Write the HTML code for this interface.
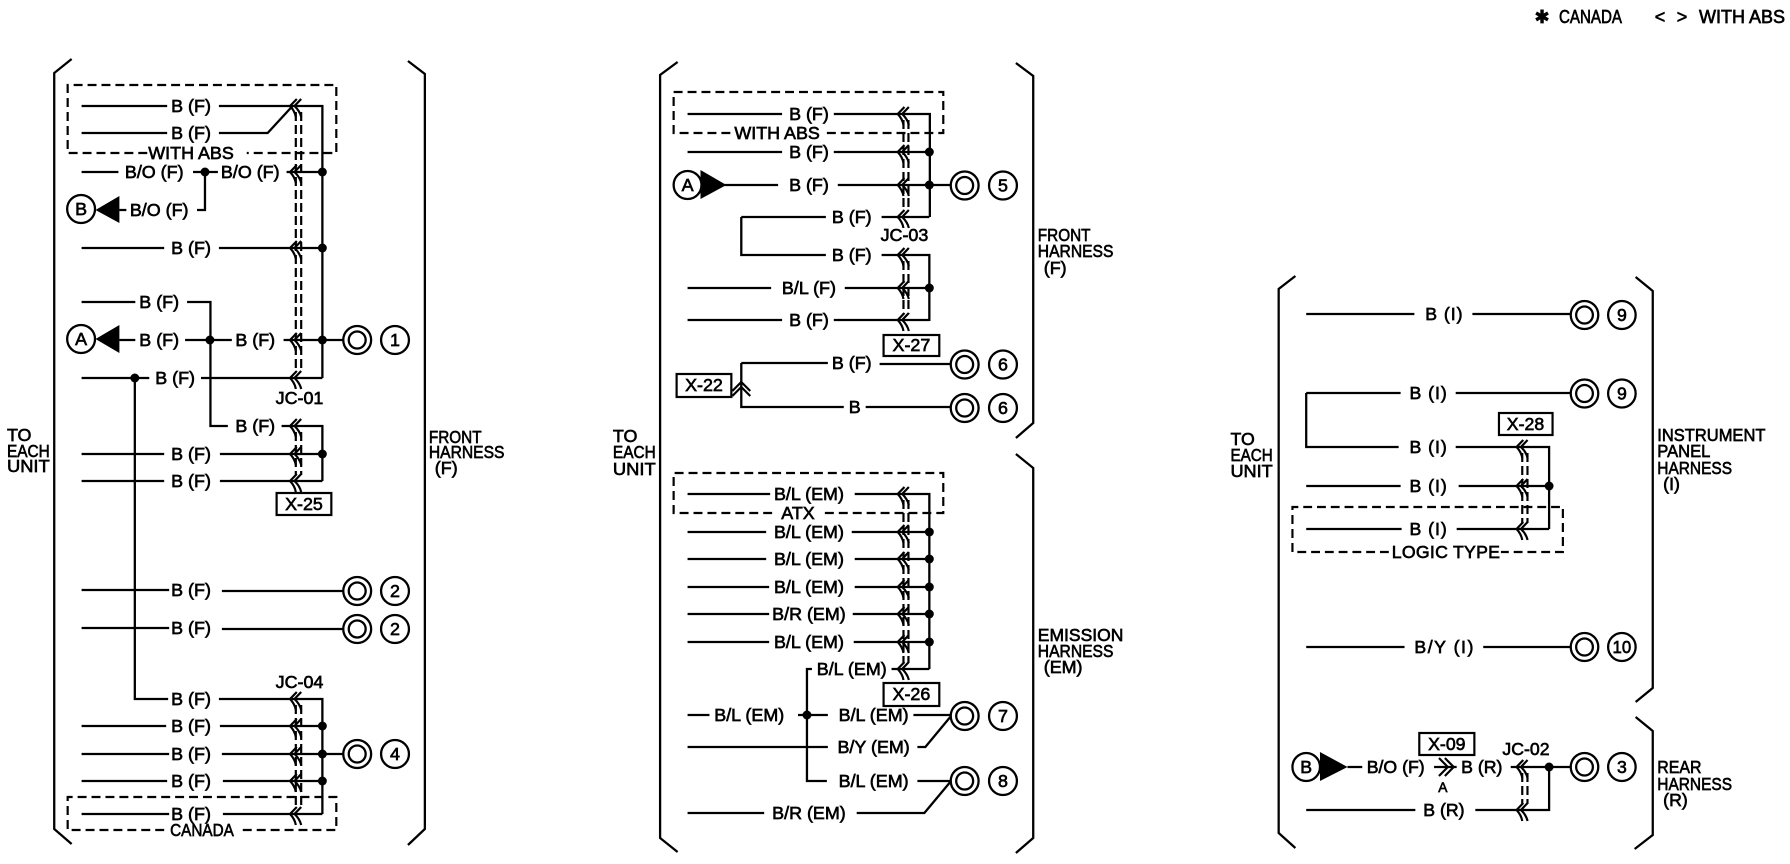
<!DOCTYPE html>
<html><head><meta charset="utf-8"><title>Harness diagram</title>
<style>
html,body{margin:0;padding:0;background:#fff}
svg{display:block}
text{font-family:"Liberation Sans",sans-serif;font-size:18px;fill:#000;stroke:#000;stroke-width:.65px;text-anchor:middle}
text.l{text-anchor:start}
.w{fill:none;stroke:#000;stroke-width:2.3}
.d{fill:none;stroke:#000;stroke-width:2.2;stroke-dasharray:9 5}
.v{fill:none;stroke:#000;stroke-width:2.2;stroke-dasharray:9 4}
.c{fill:none;stroke:#000;stroke-width:2.2}
.n{fill:#fff;stroke:#000;stroke-width:2.3}
</style></head><body>
<svg width="1790" height="864" viewBox="0 0 1790 864" xmlns="http://www.w3.org/2000/svg">
<defs>
<g id="c"><path class="c" d="M1-7L-5.8 0Q-1 5 0 11M5.4-7L-1.3 0Q4 5 5.4 11"/></g>
<g id="r"><circle r="14" class="n"/><circle r="8.5" class="n"/></g>
</defs>

<!-- legend -->
<text x="1542" y="23">✱</text>
<text class="l" x="1559" y="23" textLength="63" lengthAdjust="spacingAndGlyphs">CANADA</text>
<text x="1660" y="23">&lt;</text><text x="1682" y="23">&gt;</text>
<text class="l" x="1699" y="23" textLength="86" lengthAdjust="spacingAndGlyphs">WITH ABS</text>

<!-- PANEL 1 -->
<g transform="scale(.995 1)">
<path class="w" d="M72 59L54.5 73V829L72 844M410 61L427 74V829L410 845"/>
<path class="d" d="M148 153H68V85H338V153H248M165 830H68V797H338V830H240"/>
<path class="v" d="M297.3 112V372M302.7 112V372M297.3 432V475M302.7 432V475M297.3 705V808M302.7 705V808"/>
<path class="w" d="M82 106H168M220 106H324V378M82 133H168M220 133H269L294 106
M82 172H119M194 172H219M288 172H324M206 172V210H198M120 210H127
M82 248H165M220 248H324
M82 302H136M188 302H211.5V426H229M283 426H324V481
M120 340H136M186 340H233M285 340H346
M82 378H150M202 378H324M135.5 378V699H169M220 699H324V814
M82 454H165M221 454H324M82 481H165M221 481H324
M82 590H170M223 591H346M82 628H170M223 629H346
M82 726H167M221 726H324M82 754H170M223 754H346M82 781H168M224 781H324M82 814H170M224 814H324"/>
<g>
<use href="#c" x="297.3" y="106"/><use href="#c" x="297.3" y="172"/><use href="#c" x="297.3" y="248"/><use href="#c" x="297.3" y="340"/><use href="#c" x="297.3" y="378"/>
<use href="#c" x="297.3" y="426"/><use href="#c" x="297.3" y="454"/><use href="#c" x="297.3" y="481"/>
<use href="#c" x="297.3" y="699"/><use href="#c" x="297.3" y="726"/><use href="#c" x="297.3" y="754"/><use href="#c" x="297.3" y="781"/><use href="#c" x="297.3" y="814"/>
</g>
<g fill="#000">
<circle cx="206" cy="172" r="4.5"/><circle cx="324" cy="172" r="4.5"/><circle cx="324" cy="248" r="4.5"/><circle cx="211" cy="340" r="4.5"/><circle cx="324" cy="340" r="4.5"/><circle cx="135.5" cy="378" r="4.5"/><circle cx="324" cy="454" r="4.5"/><circle cx="324" cy="726" r="4.5"/><circle cx="324" cy="754" r="4.5"/><circle cx="324" cy="781" r="4.5"/>
<path d="M96 210L120 196V223ZM96 339L120 325V353Z"/>
</g>
<circle class="n" cx="81.5" cy="209" r="14"/><circle class="n" cx="81.5" cy="339" r="14"/>
<use href="#r" x="359" y="340"/><use href="#r" x="359" y="591"/><use href="#r" x="359" y="629"/><use href="#r" x="359" y="754"/>
<circle class="n" cx="397" cy="340" r="14"/><circle class="n" cx="397" cy="591" r="14"/><circle class="n" cx="397" cy="629" r="14"/><circle class="n" cx="397" cy="754" r="14"/>
<text x="81.5" y="215">B</text><text x="81.5" y="345">A</text>
<text x="397" y="346">1</text><text x="397" y="597">2</text><text x="397" y="635">2</text><text x="397" y="760">4</text>
<text x="192" y="159">WITH ABS</text><text x="192" y="112">B (F)</text><text x="192" y="139">B (F)</text>
<text x="155" y="178">B/O (F)</text><text x="251.5" y="178">B/O (F)</text><text x="160" y="216">B/O (F)</text>
<text x="192" y="254">B (F)</text><text x="160" y="308">B (F)</text><text x="160" y="346">B (F)</text><text x="256.5" y="346">B (F)</text>
<text x="176" y="384">B (F)</text><text x="301" y="404">JC-01</text><text x="256.5" y="432">B (F)</text>
<text x="192" y="460">B (F)</text><text x="192" y="487">B (F)</text>
<rect x="278" y="493" width="55" height="22" fill="#fff" stroke="#000" stroke-width="2.2"/><text x="305.5" y="510">X-25</text>
<text x="192" y="596">B (F)</text><text x="192" y="634">B (F)</text><text x="301" y="688">JC-04</text>
<text x="192" y="705">B (F)</text><text x="192" y="732">B (F)</text><text x="192" y="760">B (F)</text><text x="192" y="787">B (F)</text><text x="192" y="820">B (F)</text>
<text x="203" y="836" textLength="64" lengthAdjust="spacingAndGlyphs">CANADA</text>
<text class="l" x="7" y="441">TO</text><text class="l" x="7" y="457" textLength="43" lengthAdjust="spacingAndGlyphs">EACH</text><text class="l" x="7" y="472" textLength="43" lengthAdjust="spacingAndGlyphs">UNIT</text>
<text class="l" x="431" y="443" textLength="53" lengthAdjust="spacingAndGlyphs">FRONT</text><text class="l" x="431" y="458" textLength="76" lengthAdjust="spacingAndGlyphs">HARNESS</text><text class="l" x="437" y="474">(F)</text>
</g>

<!-- PANEL 2 -->
<g transform="translate(600 0) scale(.995 1) translate(-600 0)">
<path class="w" d="M678 62L660.4 75V838L678 852M1018 63L1035.4 76V423L1018 438M1018 454L1035.4 468V838L1018 853"/>
<path class="d" d="M731 133H674V92H945V133H825M773 513H674V473H945V513H821"/>
<path class="v" d="M905 120V211M910 120V211M905 261V314M910 261V314M905 500V663M910 500V663"/>
<path class="w" d="M688 114H783M835 114H931.5V217M688 152H783M835 152H931
M725 185H779M839 185H954M742 217H827M883 217H931M742 217V255H827M883 255H931V321
M688 288H772M846 288H931M688 320H783M835 320H931
M742 363H829M881 364H954M742 363V407H845M867 407H954
M688 494H771M856 494H931V669M688 532H767M853 532H931M688 559H767M856 559H931M688 587H770M856 587H931M688 614H770M854 614H931M688 642H770M855 642H931
M931 669H893M813 669H808V781H828
M688 715H710M799 715H829M915 715H954M688 747H829M919 747H927L952 717
M919 781H954M688 813H765M858 813H926L952 782"/>
<g>
<use href="#c" x="905" y="114"/><use href="#c" x="905" y="152"/><use href="#c" x="905" y="185"/><use href="#c" x="905" y="217"/>
<use href="#c" x="905" y="255"/><use href="#c" x="905" y="288"/><use href="#c" x="905" y="320"/>
<use href="#c" x="905" y="494"/><use href="#c" x="905" y="532"/><use href="#c" x="905" y="559"/><use href="#c" x="905" y="587"/><use href="#c" x="905" y="614"/><use href="#c" x="905" y="642"/><use href="#c" x="905" y="669"/>
</g>
<path class="c" d="M733 391L742 382L751 391M733 396L742 387L751 396"/>
<g fill="#000">
<circle cx="931" cy="152" r="4.5"/><circle cx="931" cy="185" r="4.5"/><circle cx="931" cy="288" r="4.5"/>
<circle cx="931" cy="532" r="4.5"/><circle cx="931" cy="559" r="4.5"/><circle cx="931" cy="587" r="4.5"/><circle cx="931" cy="614" r="4.5"/><circle cx="931" cy="642" r="4.5"/><circle cx="808" cy="715" r="4.5"/>
<path d="M727 185L701 170V199Z"/>
</g>
<circle class="n" cx="688" cy="185" r="14"/><text x="688" y="191">A</text>
<use href="#r" x="966.5" y="185.5"/><use href="#r" x="966.5" y="364.5"/><use href="#r" x="966.5" y="408"/><use href="#r" x="966.5" y="716"/><use href="#r" x="966.5" y="781"/>
<circle class="n" cx="1005" cy="185.5" r="14"/><circle class="n" cx="1005" cy="364.5" r="14"/><circle class="n" cx="1005" cy="408" r="14"/><circle class="n" cx="1005" cy="716" r="14"/><circle class="n" cx="1005" cy="781" r="14"/>
<text x="1005" y="191.5">5</text><text x="1005" y="370.5">6</text><text x="1005" y="414">6</text><text x="1005" y="722">7</text><text x="1005" y="787">8</text>
<text x="778" y="139">WITH ABS</text><text x="810" y="120">B (F)</text><text x="810" y="158">B (F)</text><text x="810" y="191">B (F)</text>
<text x="853" y="223">B (F)</text><text x="906" y="241">JC-03</text><text x="853" y="261">B (F)</text>
<text x="810" y="294">B/L (F)</text><text x="810" y="326">B (F)</text>
<rect x="885" y="335" width="56" height="21" fill="#fff" stroke="#000" stroke-width="2.2"/><text x="913" y="351">X-27</text>
<text x="853" y="369">B (F)</text><text x="856" y="413">B</text>
<rect x="677" y="374" width="55" height="23" fill="#fff" stroke="#000" stroke-width="2.2"/><text x="704.5" y="391">X-22</text>
<text class="l" x="613" y="442">TO</text><text class="l" x="613" y="458" textLength="43" lengthAdjust="spacingAndGlyphs">EACH</text><text class="l" x="613" y="475" textLength="43" lengthAdjust="spacingAndGlyphs">UNIT</text>
<text class="l" x="1040" y="241" textLength="53" lengthAdjust="spacingAndGlyphs">FRONT</text><text class="l" x="1040" y="257" textLength="76" lengthAdjust="spacingAndGlyphs">HARNESS</text><text class="l" x="1046" y="274">(F)</text>
<text x="799" y="519">ATX</text>
<text x="810" y="500">B/L (EM)</text><text x="810" y="538">B/L (EM)</text><text x="810" y="565">B/L (EM)</text><text x="810" y="593">B/L (EM)</text><text x="810" y="620">B/R (EM)</text><text x="810" y="648">B/L (EM)</text>
<text x="853" y="675">B/L (EM)</text>
<rect x="885" y="683" width="56" height="23" fill="#fff" stroke="#000" stroke-width="2.2"/><text x="913" y="700">X-26</text>
<text x="750" y="721">B/L (EM)</text><text x="875" y="721">B/L (EM)</text><text x="875" y="753">B/Y (EM)</text><text x="875" y="787">B/L (EM)</text><text x="810" y="819">B/R (EM)</text>
<text class="l" x="1040" y="641" textLength="86" lengthAdjust="spacingAndGlyphs">EMISSION</text><text class="l" x="1040" y="657" textLength="76" lengthAdjust="spacingAndGlyphs">HARNESS</text><text class="l" x="1046" y="673">(EM)</text>
</g>

<!-- PANEL 3 -->
<g transform="translate(1200 0) scale(.9834 1) translate(-1200 0)">
<path class="w" d="M1297 276L1280 289V833L1297 848M1643 277L1660.4 291V688L1643 702M1643 717L1660.4 731V835L1642 849"/>
<path class="d" d="M1392 552H1294V507H1569V552H1506"/>
<path class="v" d="M1527.7 453V523M1533 453V523M1527.7 773V804M1533 773V804"/>
<path class="w" d="M1308 314H1418M1477 314H1577M1308 393H1404M1460 393H1577M1308 393V447H1402M1460 447H1555V529
M1308 486H1404M1463 486H1555M1308 529H1405M1461 529H1555
M1308 647H1408M1488 647H1577
M1350 767H1365M1438 767H1461M1516 767H1577M1308 810H1419M1480 810H1555V767"/>
<g>
<use href="#c" x="1527.7" y="447"/><use href="#c" x="1527.7" y="486"/><use href="#c" x="1527.7" y="529"/><use href="#c" x="1527.7" y="767"/><use href="#c" x="1527.7" y="810"/>
</g>
<path class="c" d="M1443 758L1452 767L1443 776M1449 758L1458 767L1449 776"/>
<g fill="#000"><circle cx="1555" cy="486" r="4.5"/><circle cx="1555" cy="767" r="4.5"/><path d="M1350 767L1322 752V781Z"/></g>
<circle class="n" cx="1308" cy="767" r="14"/><text x="1308" y="773">B</text>
<use href="#r" x="1591" y="315"/><use href="#r" x="1591" y="393.5"/><use href="#r" x="1591" y="647"/><use href="#r" x="1591" y="767"/>
<circle class="n" cx="1629" cy="315" r="14"/><circle class="n" cx="1629" cy="393.5" r="14"/><circle class="n" cx="1629" cy="647" r="14"/><circle class="n" cx="1629" cy="767" r="14"/>
<text x="1629" y="321">9</text><text x="1629" y="399.5">9</text><text x="1629" y="653" textLength="19" lengthAdjust="spacingAndGlyphs">10</text><text x="1629" y="773">3</text>
<text x="1448" y="320" textLength="38">B (I)</text><text x="1432" y="399" textLength="38">B (I)</text>
<rect x="1504" y="413" width="54.5" height="22" fill="#fff" stroke="#000" stroke-width="2.2"/><text x="1531" y="430">X-28</text>
<text x="1432" y="453" textLength="38">B (I)</text><text x="1432" y="492" textLength="38">B (I)</text><text x="1432" y="535" textLength="38">B (I)</text>
<text x="1450" y="558" textLength="110">LOGIC TYPE</text>
<text class="l" x="1231" y="445">TO</text><text class="l" x="1231" y="461" textLength="43" lengthAdjust="spacingAndGlyphs">EACH</text><text class="l" x="1231" y="477" textLength="43" lengthAdjust="spacingAndGlyphs">UNIT</text>
<text class="l" x="1665" y="441" textLength="110" lengthAdjust="spacingAndGlyphs">INSTRUMENT</text><text class="l" x="1665" y="457" textLength="54" lengthAdjust="spacingAndGlyphs">PANEL</text><text class="l" x="1665" y="474" textLength="76" lengthAdjust="spacingAndGlyphs">HARNESS</text><text class="l" x="1671" y="490">(I)</text>
<text x="1448" y="653" textLength="60">B/Y (I)</text>
<rect x="1423" y="733" width="56" height="22" fill="#fff" stroke="#000" stroke-width="2.2"/><text x="1451" y="750">X-09</text>
<text x="1399" y="773">B/O (F)</text><text x="1486.5" y="773">B (R)</text><text x="1447" y="792" style="font-size:14px">A</text>
<text x="1531.5" y="755">JC-02</text><text x="1448" y="816">B (R)</text>
<text class="l" x="1665" y="773" textLength="45" lengthAdjust="spacingAndGlyphs">REAR</text><text class="l" x="1665" y="790" textLength="76" lengthAdjust="spacingAndGlyphs">HARNESS</text><text class="l" x="1671" y="806">(R)</text>
</g>
</svg>
</body></html>
